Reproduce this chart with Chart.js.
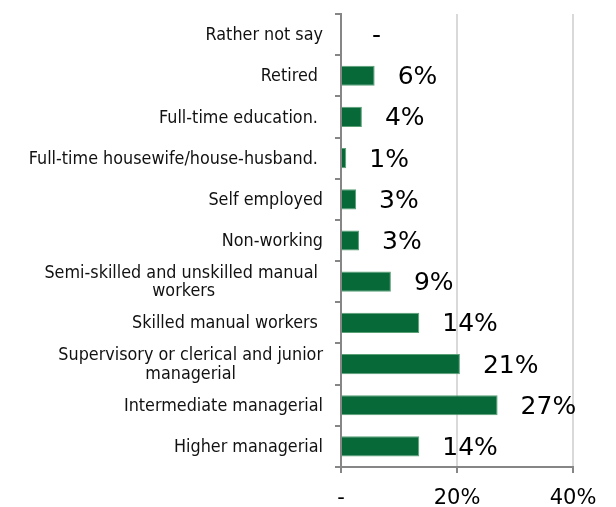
<!DOCTYPE html>
<html>
<head>
<meta charset="utf-8">
<script src="https://cdn.jsdelivr.net/npm/chart.js@4/dist/chart.umd.min.js"></script>
<style>
  html, body { margin: 0; padding: 0; background: #ffffff; }
  #wrap { width: 616px; height: 507px; }
</style>
</head>
<body>
<div id="wrap"><canvas id="chart" width="616" height="507"></canvas></div>
<script>
// Occupation groups, top row first (multi-line names are arrays of lines)
const categories = [
  'Rather not say',
  'Retired ',
  'Full-time education. ',
  'Full-time housewife/house-husband. ',
  'Self employed',
  'Non-working',
  ['Semi-skilled and unskilled manual ', 'workers'],
  'Skilled manual workers ',
  ['Supervisory or clerical and junior', 'managerial'],
  'Intermediate managerial',
  'Higher managerial'
];

// Share of respondents (%)
const shares = [0, 5.8, 3.6, 0.9, 2.6, 3.1, 8.6, 13.5, 20.5, 27.0, 13.5];

// Value axis ticks (%)
const xTicks = [0, 20, 40];

const FONT = '"DejaVu Sans", Verdana, sans-serif';
const GREEN = '#076838';
const AXIS_GREY = '#868686';
const GRID_GREY = '#d9d9d9';

function pctLabel(v) {
  return v === 0 ? '-' : Math.round(v) + '%';
}

// Category names: right-aligned blocks, lines centred inside each block
const categoryLabels = {
  id: 'categoryLabels',
  afterDraw(chart) {
    const ctx = chart.ctx;
    const y = chart.scales.y;
    const size = 17.5, lineH = 18.5, sx = 0.915;
    const right = chart.chartArea.left - 18;
    ctx.save();
    ctx.font = size + 'px ' + FONT;
    ctx.fillStyle = '#111111';
    ctx.textAlign = 'center';
    ctx.textBaseline = 'middle';
    categories.forEach((c, i) => {
      const lines = Array.isArray(c) ? c : [c];
      const w = Math.max(...lines.map(l => ctx.measureText(l).width)) * sx;
      const cx = right - w / 2;
      const cy = y.getPixelForValue(i) + 1;
      const y0 = cy - (lines.length - 1) * lineH / 2;
      lines.forEach((l, k) => {
        ctx.save();
        ctx.translate(cx, y0 + k * lineH);
        ctx.scale(sx, 1);
        ctx.fillText(l, 0, 0);
        ctx.restore();
      });
    });
    ctx.restore();
  }
};

// Value labels just beyond the end of each bar
const valueLabels = {
  id: 'valueLabels',
  afterDatasetsDraw(chart) {
    const ctx = chart.ctx;
    const meta = chart.getDatasetMeta(0);
    ctx.save();
    ctx.font = '25px ' + FONT;
    ctx.fillStyle = '#000000';
    ctx.textAlign = 'left';
    ctx.textBaseline = 'middle';
    meta.data.forEach((bar, i) => {
      const v = shares[i];
      const txt = v === 0 ? ' -' : pctLabel(v);
      ctx.fillText(txt, bar.x + 23, bar.y + 2);
    });
    ctx.restore();
  }
};

new Chart(document.getElementById('chart'), {
  type: 'bar',
  data: {
    labels: categories,
    datasets: [{
      data: shares,
      backgroundColor: GREEN,
      borderColor: '#5b9f76',
      borderWidth: 1,
      borderSkipped: 'start',
      barPercentage: 0.49,
      categoryPercentage: 1.0
    }]
  },
  options: {
    indexAxis: 'y',
    responsive: false,
    animation: false,
    devicePixelRatio: 1,
    layout: { padding: { top: 14, right: 43, left: 0, bottom: 0 } },
    plugins: {
      legend: { display: false },
      tooltip: { enabled: false }
    },
    scales: {
      x: {
        min: 0,
        max: 40,
        afterBuildTicks(scale) {
          scale.ticks = xTicks.map(v => ({ value: v }));
        },
        afterFit(scale) { scale.height = 40; },
        grid: {
          color: GRID_GREY,
          lineWidth: 2,
          tickColor: AXIS_GREY,
          tickLength: 6,
          tickWidth: 2
        },
        border: { color: AXIS_GREY, width: 2 },
        ticks: {
          font: { family: FONT, size: 21 },
          color: '#000000',
          padding: 13,
          maxRotation: 0,
          callback: v => pctLabel(v)
        }
      },
      y: {
        afterFit(scale) { scale.width = 341; },
        grid: {
          offset: true,
          drawOnChartArea: false,
          color: AXIS_GREY,
          tickLength: 6,
          lineWidth: 2
        },
        border: { color: AXIS_GREY, width: 2 },
        ticks: { display: false }
      }
    }
  },
  plugins: [categoryLabels, valueLabels]
});
</script>
</body>
</html>
